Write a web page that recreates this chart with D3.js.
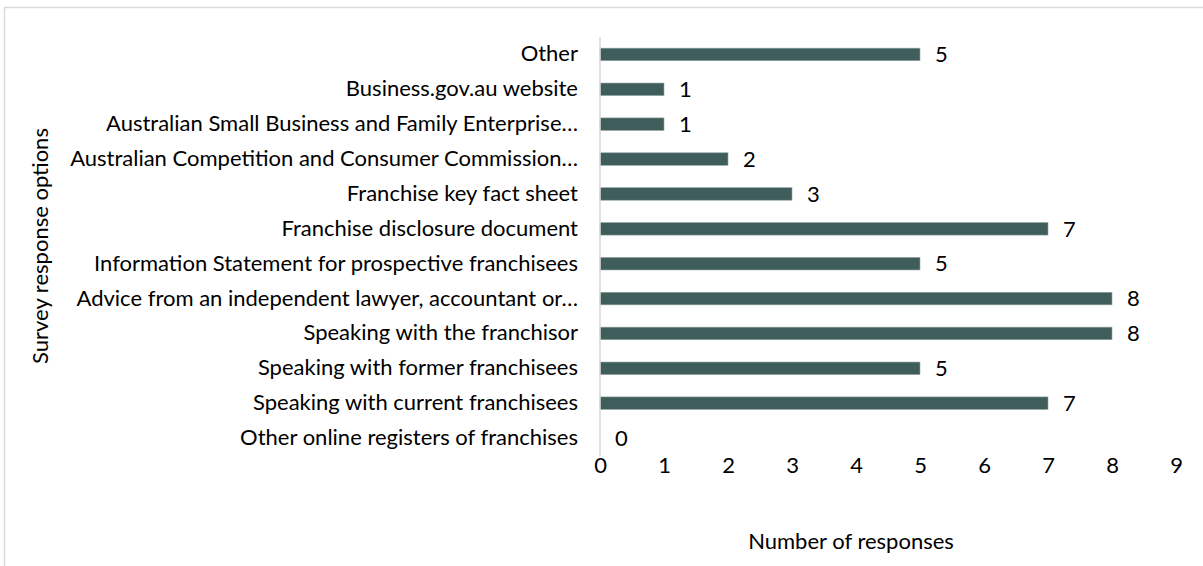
<!DOCTYPE html>
<html>
<head>
<meta charset="utf-8">
<script src="https://cdn.jsdelivr.net/npm/d3@7"></script>
<style>
  html, body { margin: 0; padding: 0; background: #fff; }
  svg text { font-family: "Lato", "Open Sans", sans-serif; fill: #000; }
</style>
</head>
<body>
<svg id="chart" width="1203" height="566"></svg>
<script>
// Survey response options, listed top to bottom
const categories = [
  "Other",
  "Business.gov.au website",
  "Australian Small Business and Family Enterprise…",
  "Australian Competition and Consumer Commission…",
  "Franchise key fact sheet",
  "Franchise disclosure document",
  "Information Statement for prospective franchisees",
  "Advice from an independent lawyer, accountant or…",
  "Speaking with the franchisor",
  "Speaking with former franchisees",
  "Speaking with current franchisees",
  "Other online registers of franchises"
];
const responses = [5, 1, 1, 2, 3, 7, 5, 8, 8, 5, 7, 0];
const xTicks = [0, 1, 2, 3, 4, 5, 6, 7, 8, 9];
const xTitle = "Number of responses";
const yTitle = "Survey response options";

const svg = d3.select("#chart");
const plot = { left: 600, right: 1176, top: 37, bottom: 455.5 };
const fontSize = 22;

// outer chart frame (extends past the right and bottom edges)
svg.append("rect")
  .attr("x", 4.5).attr("y", 7.5)
  .attr("width", 1300).attr("height", 700)
  .attr("fill", "#fff").attr("stroke", "#d9d9d9").attr("stroke-width", 1.5);

const x = d3.scaleLinear().domain([0, 9]).range([plot.left, plot.right]);
const y = d3.scaleBand().domain(categories).range([plot.top, plot.bottom]).paddingInner(0.64).paddingOuter(0.32);

// bars
svg.append("g").selectAll("rect")
  .data(categories)
  .join("rect")
  .attr("x", x(0))
  .attr("y", d => y(d))
  .attr("width", (d, i) => x(responses[i]) - x(0))
  .attr("height", y.bandwidth())
  .attr("fill", "#3f5e5b")
  .attr("stroke", "#93a5a3")
  .attr("stroke-width", 0.6);

// category axis (line only, labels right-aligned)
const yAxis = d3.axisLeft(y).tickSize(0).tickPadding(22);
const gy = svg.append("g").attr("transform", `translate(${plot.left},0)`).call(yAxis)
  .attr("font-size", fontSize).attr("font-family", "Lato");
gy.select(".domain").attr("stroke", "#d9d9d9").attr("stroke-width", 1.5)
  .attr("d", `M0,${plot.top}V${plot.bottom}`);
gy.selectAll("text").attr("fill", "#000");

// value axis: tick labels only
const xAxis = d3.axisBottom(x).tickValues(xTicks).tickSize(0).tickPadding(0).tickFormat(d3.format("d"));
const gx = svg.append("g").attr("transform", `translate(0,${plot.bottom})`).call(xAxis)
  .attr("font-size", fontSize).attr("font-family", "Lato");
gx.select(".domain").remove();
gx.selectAll("text").attr("fill", "#000").attr("y", 10).attr("dy", "0.35em");

// value labels at bar ends
svg.append("g").selectAll("text")
  .data(categories)
  .join("text")
  .attr("x", (d, i) => x(responses[i]) + 15)
  .attr("y", d => y(d) + y.bandwidth() / 2)
  .attr("dy", "0.35em")
  .attr("font-size", fontSize)
  .text((d, i) => responses[i]);

// axis titles
svg.append("text")
  .attr("x", 851).attr("y", 541).attr("dy", "0.35em")
  .attr("text-anchor", "middle").attr("font-size", fontSize)
  .text(xTitle);

svg.append("text")
  .attr("transform", "translate(40,246) rotate(-90)")
  .attr("dy", "0.35em")
  .attr("text-anchor", "middle").attr("font-size", fontSize)
  .text(yTitle);
</script>
</body>
</html>
